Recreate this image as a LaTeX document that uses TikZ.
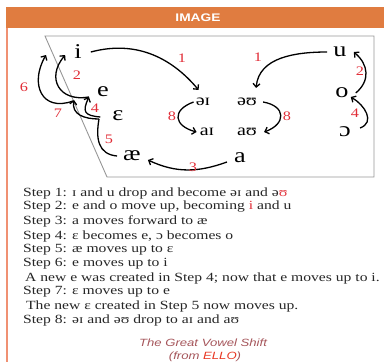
\documentclass[tikz,border=0pt]{standalone}
\usepackage{fontspec}
\setmainfont{Liberation Serif}[FakeStretch=1.25]
\setsansfont{Liberation Sans}[FakeStretch=1.25]
\usetikzlibrary{arrows.meta}

\definecolor{headorange}{RGB}{224,124,64}
\definecolor{edgeorange}{RGB}{240,145,115}
\definecolor{numred}{RGB}{225,45,55}
\definecolor{chartgray}{RGB}{150,150,150}
\definecolor{captionred}{RGB}{165,85,90}
\definecolor{ellored}{RGB}{232,55,35}

\tikzset{
  vowel/.style={inner sep=0pt, font=\fontsize{21}{21}\selectfont},
  diph/.style={inner sep=0pt, font=\fontsize{16}{16}\selectfont},
  steplabel/.style={inner sep=0pt, text=numred, font=\fontsize{13}{13}\selectfont},
  shiftarrow/.style={line width=1.3pt, -{Straight Barb[length=3.5pt,width=7pt]}},
  shiftline/.style={line width=1.3pt},
  stepline/.style={anchor=west, inner sep=0pt, text=black!85, font=\fontsize{12.5}{14}\selectfont}
}

\begin{document}
\begin{tikzpicture}[x=1pt,y=1pt]
  \useasboundingbox (0,0) rectangle (384,-362);
  % header bar and side rule
  \fill[headorange] (6,-7) rectangle (384,-28);
  \node[text=white, font=\sffamily\bfseries\fontsize{11}{11}\selectfont] (head) at (198,-17.5) {IMAGE};
  \draw[edgeorange, line width=1.2pt] (7,-28) -- (7,-362);
  % vowel chart
  \draw[chartgray, line width=0.9pt] (107,-177) -- (45,-36) -- (374,-36) -- (374,-177) -- cycle;

  \node[vowel] (vi) at (78,-52) {i};
  \node[vowel] (ve) at (103,-92) {e};
  \node[vowel] (veps) at (118,-116) {ɛ};
  \node[vowel] (vae) at (132,-156) {æ};
  \node[vowel] (va) at (240,-158) {a};
  \node[vowel] (vopen) at (345,-132) {ɔ};
  \node[vowel] (vo) at (342,-93) {o};
  \node[vowel] (vu) at (340,-52) {u};
  \node[diph] (dei) at (203,-102) {əɪ};
  \node[diph] (deu) at (247,-102) {əʊ};
  \node[diph] (dai) at (207,-132) {aɪ};
  \node[diph] (dau) at (247,-132) {aʊ};
  \coordinate (oldi) at (46,-55);
  \coordinate (newe) at (74,-100);
  \coordinate (neweps) at (99,-119);

  % step 1
  \draw[shiftarrow] ([xshift=9pt]vi.east) to[out=15,in=130] ([xshift=3pt,yshift=8pt]dei.north west);
  \draw[shiftarrow] ([xshift=-6pt]vu.west) to[out=180,in=85] ([xshift=-1pt,yshift=10pt]deu.north east);
  % step 2
  \draw[shiftarrow] ([xshift=-8pt,yshift=-5pt]ve.west) to[out=190,in=230,looseness=1.6] ([xshift=-9pt,yshift=-3pt]vi.west);
  \draw[shiftarrow] ([xshift=7pt]vo.east) to[out=40,in=-40,looseness=1.2] ([xshift=7pt]vu.east);
  % step 3
  \draw[shiftarrow] ([xshift=-7pt,yshift=-4pt]va.west) to[out=200,in=-25] ([xshift=7pt,yshift=-4pt]vae.east);
  % step 4
  \draw[shiftarrow] ([xshift=-12pt,yshift=-1pt]veps.west) to[out=175,in=245,looseness=1.8] ([xshift=-8pt,yshift=-5pt]ve.west);
  \draw[shiftarrow] ([xshift=9pt,yshift=4pt]vopen.east) to[out=20,in=-30,looseness=1.3] ([xshift=2pt,yshift=-4pt]vo.east);
  % step 5
  \draw[shiftline] ([xshift=-6pt]vae.west) to[out=175,in=260,looseness=1.2] (neweps);
  % step 6 and 7
  \draw[shiftarrow] ([xshift=-1pt,yshift=-1pt]newe) to[out=200,in=240,looseness=1.6] (oldi);
  \draw[shiftarrow] (neweps) to[out=180,in=260,looseness=1.2] (newe);
  % step 8
  \draw[shiftarrow] ([xshift=-2pt]dei.west) to[out=200,in=165,looseness=2] ([xshift=-3pt]dai.west);
  \draw[shiftarrow] ([xshift=6pt]deu.east) to[out=-10,in=20,looseness=2] ([xshift=7pt]dau.east);

  % step numbers
  \node[steplabel] (n1a) at (182,-58) {1};
  \node[steplabel] (n1b) at (258,-57) {1};
  \node[steplabel] (n2a) at (77,-75) {2};
  \node[steplabel] (n2b) at (360,-71) {2};
  \node[steplabel] (n3) at (193,-167) {3};
  \node[steplabel] (n4a) at (95,-108) {4};
  \node[steplabel] (n4b) at (355,-113) {4};
  \node[steplabel] (n5) at (109,-139) {5};
  \node[steplabel] (n6) at (24,-87) {6};
  \node[steplabel] (n7) at (58,-113) {7};
  \node[steplabel] (n8a) at (172,-116) {8};
  \node[steplabel] (n8b) at (287,-116) {8};

  % the steps
  \node[stepline] (step1) at (23,-193) {Step 1: ɪ and u drop and become əɪ and ə\textcolor{numred}{ʊ}};
  \node[stepline] (step2) at (23,-207) {Step 2: e and o move up, becoming \textcolor{numred}{i} and u};
  \node[stepline] (step3) at (23,-221) {Step 3: a moves forward to æ};
  \node[stepline] (step4) at (23,-236) {Step 4: ɛ becomes e, ɔ becomes o};
  \node[stepline] (step5) at (23,-250) {Step 5: æ moves up to ɛ};
  \node[stepline] (step6) at (23,-264) {Step 6: e moves up to i};
  \node[stepline] (note6) at (25,-278) {A new e was created in Step 4; now that e moves up to i.};
  \node[stepline] (step7) at (23,-292) {Step 7: ɛ moves up to e};
  \node[stepline] (note7) at (26,-306) {The new ɛ created in Step 5 now moves up.};
  \node[stepline] (step8) at (23,-320) {Step 8: əɪ and əʊ drop to aɪ and aʊ};

  % caption
  \node[text=captionred, font=\sffamily\itshape\fontsize{10.5}{12}\selectfont] (capa) at (203,-343) {The Great Vowel Shift};
  \node[text=captionred, font=\sffamily\itshape\fontsize{10.5}{12}\selectfont] (capb) at (205,-357) {(from \textcolor{ellored}{ELLO})};
\end{tikzpicture}
\end{document}
